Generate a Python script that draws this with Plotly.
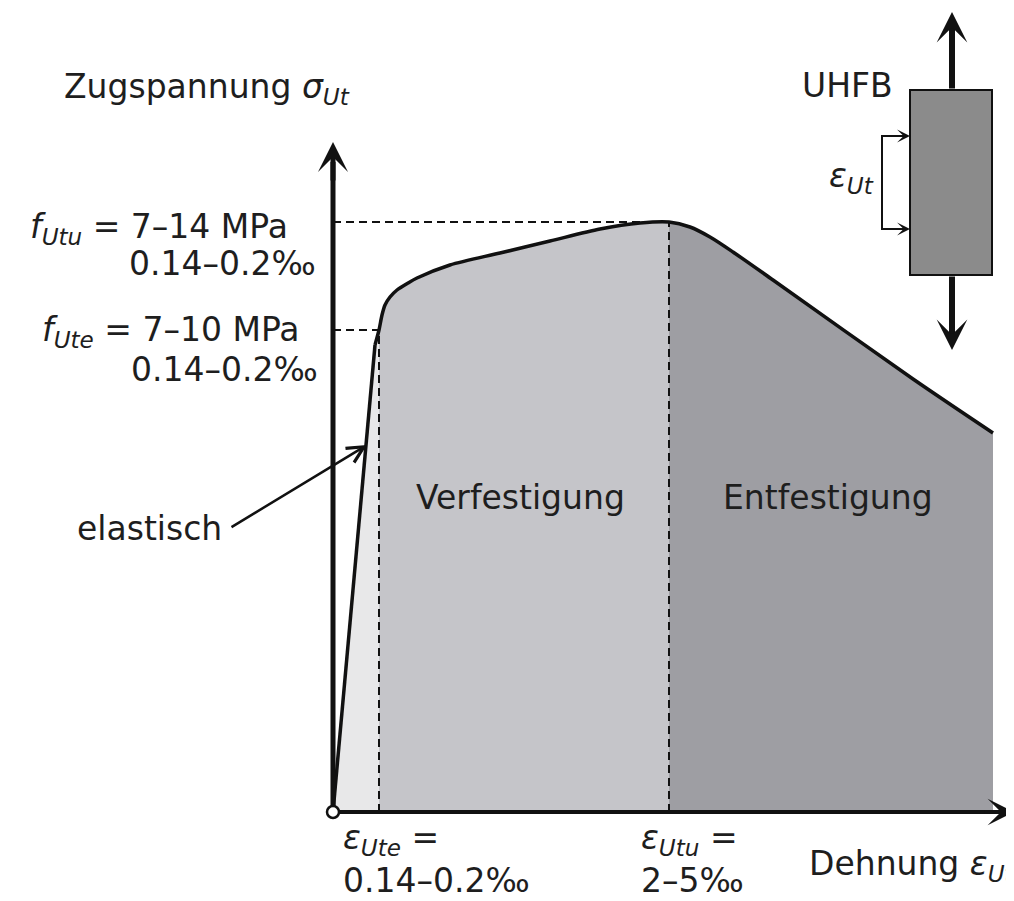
import plotly.graph_objects as go

# ---- schematic stress-strain curve (strain, stress) in drawing units ----
strain = [0, 42, 46, 49, 52, 57, 64, 75, 84, 117, 167, 217, 267, 307, 336, 357, 377, 400, 440, 580, 660]
stress = [0, 467, 482, 497, 507, 515, 522, 529, 534, 547, 559, 571, 583, 589, 590, 585, 575, 560, 532, 433, 379]
i_ute = 2    # end of elastic branch
i_utu = 14   # peak
eps_ute, f_ute = strain[i_ute], stress[i_ute]
eps_utu, f_utu = strain[i_utu], stress[i_utu]
eps_end = strain[-1]

region_labels = ["Verfestigung", "Entfestigung"]
col_elast, col_verf, col_entf = "#e8e8e9", "#c5c5c9", "#9e9ea3"

FONT = "DejaVu Sans"
FS = 33
TXT = "#1e1e1e"

fig = go.Figure()

# filled regions
fig.add_trace(go.Scatter(x=strain[:i_ute + 1] + [eps_ute, 0], y=stress[:i_ute + 1] + [0, 0],
                         fill="toself", fillcolor=col_elast, line=dict(width=0), mode="lines",
                         hoverinfo="skip"))
fig.add_trace(go.Scatter(x=strain[i_ute:i_utu + 1] + [eps_utu, eps_ute], y=stress[i_ute:i_utu + 1] + [0, 0],
                         fill="toself", fillcolor=col_verf, line=dict(width=0), mode="lines",
                         hoverinfo="skip"))
fig.add_trace(go.Scatter(x=strain[i_utu:] + [eps_end, eps_utu], y=stress[i_utu:] + [0, 0],
                         fill="toself", fillcolor=col_entf, line=dict(width=0), mode="lines",
                         hoverinfo="skip"))

# dashed guide lines
dash = "8px,5px"
for xs, ys in [([0, eps_utu], [f_utu, f_utu]), ([0, eps_ute], [f_ute, f_ute]),
               ([eps_ute, eps_ute], [0, f_ute]), ([eps_utu, eps_utu], [0, f_utu])]:
    fig.add_trace(go.Scatter(x=xs, y=ys, mode="lines", line=dict(color="#111", width=2, dash=dash),
                             hoverinfo="skip"))

# curve: straight elastic branch, smooth remainder
fig.add_trace(go.Scatter(x=strain[:2], y=stress[:2], mode="lines",
                         line=dict(color="#111", width=3.5), hoverinfo="skip"))
fig.add_trace(go.Scatter(x=strain[1:], y=stress[1:], mode="lines",
                         line=dict(color="#111", width=3.5, shape="spline", smoothing=0.8),
                         hoverinfo="skip"))

# axes lines
fig.add_trace(go.Scatter(x=[0, 0], y=[0, 650], mode="lines", line=dict(color="#111", width=5), hoverinfo="skip"))
fig.add_trace(go.Scatter(x=[0, 665], y=[0, 0], mode="lines", line=dict(color="#111", width=4), hoverinfo="skip"))

# bracket of specimen
fig.add_trace(go.Scatter(x=[575, 549, 549, 575], y=[676, 676, 583, 583], mode="lines",
                         line=dict(color="#111", width=2), hoverinfo="skip"))

# origin circle
fig.add_trace(go.Scatter(x=[0], y=[0], mode="markers",
                         marker=dict(size=12, color="white", line=dict(color="#111", width=2.5)),
                         hoverinfo="skip"))

# specimen box
fig.add_shape(type="rect", x0=577, x1=659, y0=537, y1=722, fillcolor="#8b8b8b",
              line=dict(color="#111", width=2))

def arrow(x, y, ax, ay, w, size, head=3):
    fig.add_annotation(x=x, y=y, ax=ax, ay=ay, xref="x", yref="y", axref="x", ayref="y",
                       text="", showarrow=True, arrowhead=head, arrowsize=size, arrowwidth=w,
                       arrowcolor="#111", standoff=0, startstandoff=0)

arrow(0, 670, 0, 630, 5, 1.0)           # y axis head
arrow(681, 0, 650, 0, 4, 1.1)           # x axis head
arrow(619, 800, 619, 722, 6, 0.85)      # specimen top
arrow(619, 462, 619, 537, 6, 0.85)      # specimen bottom
arrow(577, 676, 555, 676, 1.8, 1.2)     # bracket arrows
arrow(577, 583, 555, 583, 1.8, 1.2)
arrow(34, 367, -103, 284, 2.5, 1.3, head=5)  # elastisch pointer

def label(x, y, text, xanchor="left", size=FS, align="left"):
    fig.add_annotation(x=x, y=y, xref="x", yref="y", text=text, showarrow=False,
                       xanchor=xanchor, yanchor="middle", align=align,
                       font=dict(family=FONT, size=size, color=TXT))

label(-271, 724, "Zugspannung <i>σ<sub>Ut</sub></i>")
label(-305, 584, "<i>f<sub>Utu</sub></i> = 7–14 MPa")
label(-15, 549, "0.14–0.2‰", xanchor="right")
label(-293, 481, "<i>f<sub>Ute</sub></i> = 7–10 MPa")
label(-13, 443, "0.14–0.2‰", xanchor="right")
label(-258, 284, "elastisch")
label(187, 315, region_labels[0], xanchor="center")
label(495, 315, region_labels[1], xanchor="center")
label(8, -47, "<i>ε<sub>Ute</sub></i> =<br>0.14–0.2‰")
label(306, -47, "<i>ε<sub>Utu</sub></i> =<br>2–5‰")
label(474, -53, "Dehnung <i>ε<sub>Ut</sub></i>")
label(467, 727, "UHFB")
label(494, 635, "<i>ε<sub>Ut</sub></i>")

fig.update_layout(
    width=1014, height=901, margin=dict(l=0, r=0, t=0, b=0),
    paper_bgcolor="white", plot_bgcolor="white", showlegend=False,
    xaxis=dict(range=[-325, 689], visible=False, fixedrange=True),
    yaxis=dict(range=[-97, 804], visible=False, fixedrange=True),
)

fig.write_html("out.html")
